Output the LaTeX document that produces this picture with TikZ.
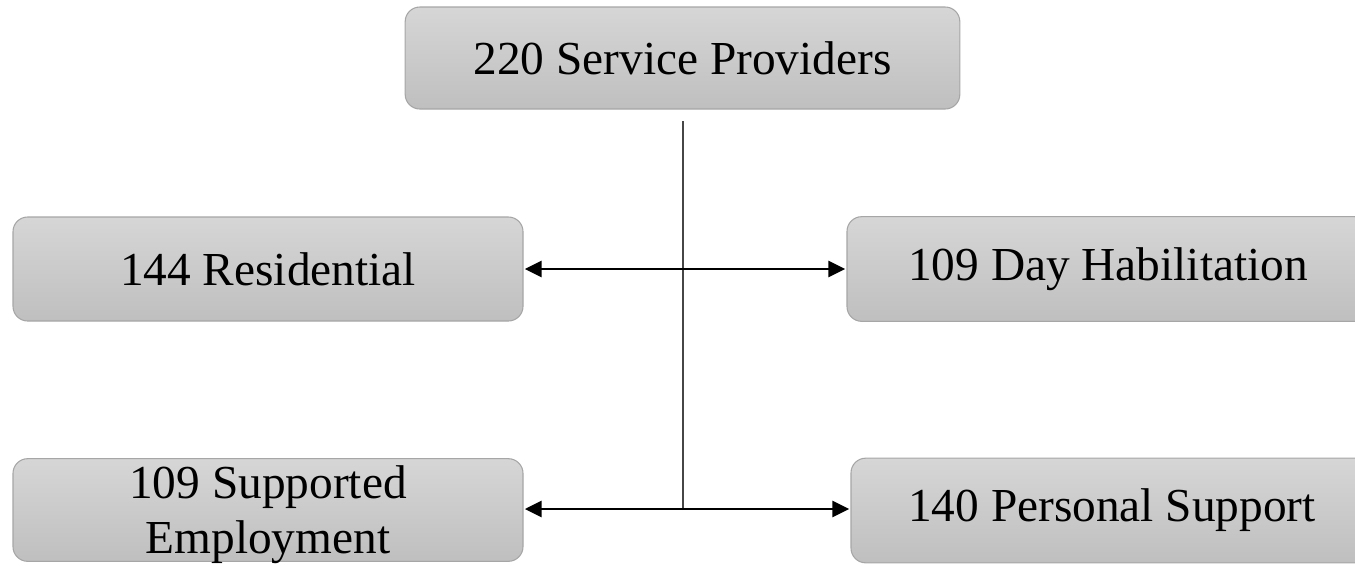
\documentclass[tikz,border=0pt]{standalone}
\usepackage{fontspec}
\setmainfont{Liberation Serif}
\usetikzlibrary{arrows.meta}

\definecolor{boxtop}{RGB}{214,214,214}
\definecolor{boxbot}{RGB}{191,191,191}
\definecolor{boxline}{RGB}{166,166,166}
\definecolor{spinegray}{RGB}{70,70,70}

\begin{document}
\begin{tikzpicture}[x=0.75pt,y=0.75pt,yscale=-1,xscale=1,
  unitbox/.style={draw=boxline, line width=0.8pt, rounded corners=11pt,
    top color=boxtop, bottom color=boxbot, inner sep=0pt, align=center,
    font=\fontsize{35.5}{44}\selectfont},
  unitline/.style={font=\fontsize{35.5}{44}\selectfont, anchor=base, inner sep=0pt},
  biarrow/.style={{Triangle[length=12.5pt,width=12pt]}-{Triangle[length=12.5pt,width=12pt]},
    line width=1.9pt, black, shorten <=1pt, shorten >=1pt}]
\useasboundingbox (0,0) rectangle (1355,565);
\clip (0,0) rectangle (1355,565);

%Shape: Rounded Rectangle - top
\node [unitbox, minimum width=416pt, minimum height=76.5pt] (providers) at (682.5,58) {220 Service Providers};
%Shape: Rounded Rectangle - left column
\node [unitbox, minimum width=382.5pt, minimum height=78pt] (residential) at (268,269) {144 Residential};
\node [unitbox, minimum width=382.5pt, minimum height=77pt] (supemp) at (268,510) {};
% Text Node
\node [unitline] (supemptop) at (268,498) {109 Supported};
% Text Node
\node [unitline] (supempbot) at (268,553) {Employment};
%Shape: Rounded Rectangle - right column
\node [unitbox, minimum width=391.5pt, minimum height=78.5pt] (dayhab) at (1108,269) {109 Day Habilitation};
\node [unitbox, minimum width=391.5pt, minimum height=78.5pt] (perssup) at (1112,510.5) {140 Personal Support};

%Straight Lines - spine
\coordinate (spinetop) at (683,121);
\coordinate (spinebot) at (683,509);
\draw [spinegray, line width=1.1pt] (spinetop) -- (spinebot);

%Straight Lines - arrows
\draw [biarrow] (residential.east) -- (dayhab.west);
\draw [biarrow] (supemp.east |- spinebot) -- (perssup.west |- spinebot);

\end{tikzpicture}
\end{document}
